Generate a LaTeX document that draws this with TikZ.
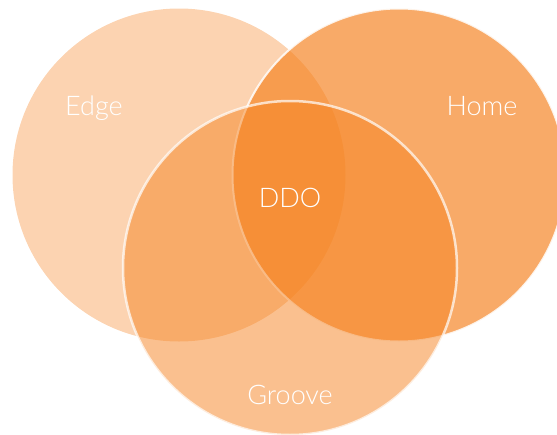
\documentclass[tikz,border=0pt]{standalone}
\usepackage{fontspec}
\setmainfont{Lato Light}
\definecolor{vennorange}{RGB}{245,130,32}
\tikzset{
  vennlabel/.style={text=white, font=\fontsize{27}{32}\selectfont, inner sep=0pt, anchor=base},
}
\begin{document}
\begin{tikzpicture}[x=1pt,y=-1pt]
\useasboundingbox (0,0) rectangle (557,434);
\clip (0,0) rectangle (557,434);
\fill[vennorange, fill opacity=0.35] (179,175) circle[radius=166.5];
\path[fill=vennorange, fill opacity=0.68, draw=white, draw opacity=0.85, line width=2pt] (399,175) circle[radius=166.5];
\path[fill=vennorange, fill opacity=0.5, draw=white, draw opacity=0.7, line width=2.5pt] (290,268) circle[radius=167];
\node[vennlabel] (edge) at (94,115.5) {Edge};
\node[vennlabel] (home) at (482,115.5) {Home};
\node[vennlabel] (ddo) at (290,207) {DDO};
\node[vennlabel] (groove) at (290,404.5) {Groove};
\end{tikzpicture}
\end{document}
